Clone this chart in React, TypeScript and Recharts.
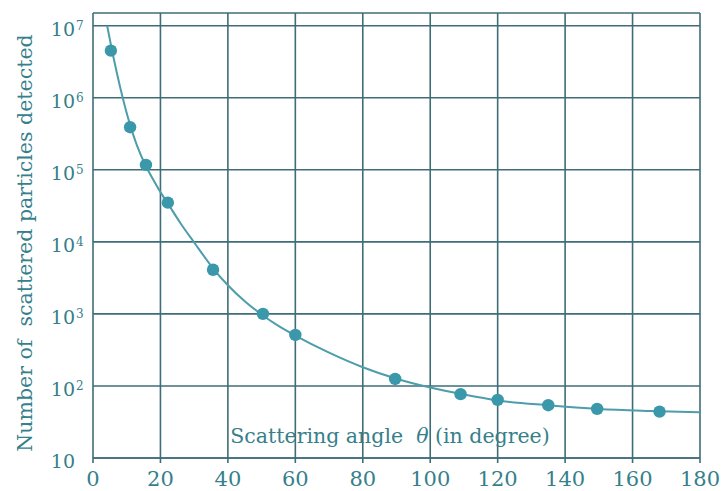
import React from "react";
import {
  ComposedChart,
  Line,
  Scatter,
  XAxis,
  YAxis,
  CartesianGrid,
} from "recharts";

const GRID = "#3f6d77";
const TEXT = "#367f8b";
const DOT = "#3a98aa";
const CURVE = "#4d9dab";
const FONT = "'DejaVu Serif', 'Liberation Serif', serif";

// measured points (scattering angle in degree, count)
const pointAngles = [5.3, 11, 15.7, 22.2, 35.6, 50.4, 60, 89.6, 109, 120, 135, 149.5, 168];
const pointCounts = [4.5e6, 3.9e5, 1.17e5, 3.5e4, 4.1e3, 1.0e3, 510, 125, 77, 64, 54, 48, 44];

// fitted curve
const curveAngles = [4.2, 5.5, 7, 8.7, 11, 13, 15.7, 18, 20, 22.2, 26, 30, 35.6, 40, 45, 50.4, 55, 60, 70, 80, 90, 100, 110, 120, 135, 150, 165, 180];
const curveCounts = [1e7, 4.9e6, 2.3e6, 1.05e6, 4.2e5, 2.2e5, 1.12e5, 7.1e4, 4.9e4, 3.4e4, 1.8e4, 9.8e3, 4.3e3, 2.5e3, 1.5e3, 950, 680, 500, 290, 182, 126, 95, 76, 63, 54, 48, 45, 43];

const xTicks = [0, 20, 40, 60, 80, 100, 120, 140, 160, 180];
const yTicks = [10, 100, 1e3, 1e4, 1e5, 1e6, 1e7];

const points = pointAngles.map((angle, i) => ({ angle, count: pointCounts[i] }));
const curve = curveAngles.map((angle, i) => ({ angle, count: curveCounts[i] }));

function PowerTick({ x, y, payload }: any) {
  const exp = Math.round(Math.log10(payload.value));
  return (
    <g fontFamily={FONT} fill={TEXT}>
      <text x={x - 18} y={y + 10} textAnchor="end" fontSize={19}>
        10
      </text>
      {exp > 1 && (
        <text x={x - 17} y={y + 4} textAnchor="start" fontSize={12}>
          {exp}
        </text>
      )}
    </g>
  );
}

function YTitle() {
  return (
    <text
      x={32}
      y={243}
      transform="rotate(-90, 32, 243)"
      textAnchor="middle"
      fontFamily={FONT}
      fontSize={20.5}
      fill={TEXT}
      style={{ whiteSpace: "pre" }}
    >
      {"Number of  scattered particles detected"}
    </text>
  );
}

function XTitle({ viewBox }: any) {
  return (
    <text
      x={390}
      y={viewBox.y - 15}
      textAnchor="middle"
      fontFamily={FONT}
      fontSize={20.5}
      fill={TEXT}
      style={{ whiteSpace: "pre" }}
    >
      {"Scattering angle  "}
      <tspan fontStyle="italic">θ</tspan>
      {" (in degree)"}
    </text>
  );
}

export default function App() {
  return (
    <div style={{ position: "absolute", left: 0, top: 0, background: "#fff" }}>
      <ComposedChart
        width={728}
        height={491}
        margin={{ top: 13, right: 28, bottom: 0, left: 0 }}
      >
        <CartesianGrid stroke={GRID} strokeWidth={1.6} />
        <XAxis
          dataKey="angle"
          type="number"
          domain={[0, 180]}
          ticks={xTicks}
          height={33}
          tickSize={5}
          tickMargin={8}
          stroke={GRID}
          strokeWidth={1.6}
          tick={{ fontSize: 21, fill: TEXT, fontFamily: FONT }}
          label={{ content: XTitle }}
        />
        <YAxis
          dataKey="count"
          type="number"
          scale="log"
          domain={[10, 1.5e7]}
          ticks={yTicks}
          allowDataOverflow
          width={93}
          axisLine={false}
          tickLine={false}
          tickSize={0}
          tickMargin={0}
          tick={<PowerTick />}
          label={{ content: YTitle }}
        />
        <Line
          data={curve}
          dataKey="count"
          type="monotone"
          stroke={CURVE}
          strokeWidth={2}
          dot={false}
          isAnimationActive={false}
        />
        <Scatter
          data={points}
          dataKey="count"
          fill={DOT}
          shape={(p: any) => <circle cx={p.cx} cy={p.cy} r={6.2} fill={DOT} />}
          isAnimationActive={false}
        />
      </ComposedChart>
    </div>
  );
}
